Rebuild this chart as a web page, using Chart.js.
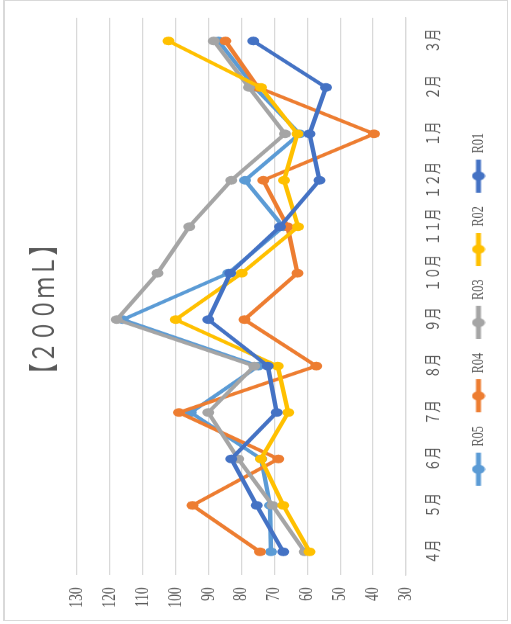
<!DOCTYPE html>
<html>
<head>
<meta charset="utf-8">
<script src="https://cdn.jsdelivr.net/npm/chart.js@4"></script>
<style>
  html, body { margin: 0; padding: 0; background: #fff; overflow: hidden; }
  #frame {
    position: absolute; left: 3px; top: 0; width: 505px; height: 621px;
    border: 1px solid #d9d9d9; border-left-width: 2px; box-sizing: border-box;
  }
  /* the chart is laid out flat, then squeezed and turned on its side */
  #wrap {
    position: absolute; left: 0; top: 0; width: 867px; height: 511px;
    transform-origin: 0 0;
    transform: translate(0, 624px) rotate(-90deg) scale(0.72, 1);
  }
</style>
</head>
<body>
<div id="frame"></div>
<div id="wrap"><canvas id="chart" width="867" height="511"></canvas></div>
<script>
const months = ['４月', '５月', '６月', '７月', '８月', '９月', '１０月', '１１月', '１２月', '１月', '２月', '３月'];
const r01 = [67.3, 75.4, 83.1, 69.3, 72.0, 90.1, 83.4, 68.3, 56.3, 59.3, 54.3, 76.4];
const r02 = [59.3, 67.3, 74.1, 65.8, 69.0, 100.0, 79.9, 62.8, 67.1, 63.0, 74.1, 102.2];
const r03 = [60.8, 70.6, 81.0, 90.1, 76.1, 117.9, 105.5, 95.9, 83.1, 66.8, 77.7, 88.4];
const r04 = [74.4, 94.9, 68.8, 99.0, 57.3, 79.1, 63.0, 66.0, 73.4, 39.7, 75.0, 84.9];
const r05 = [71.0, 71.3, 74.0, 95.4, 74.9, 116.1, 84.0, 67.3, 78.9, 62.3, 76.0, 87.0];
const seriesNames = ['R01', 'R02', 'R03', 'R04', 'R05'];
const seriesColors = ['#4472c4', '#ffc000', '#a5a5a5', '#ed7d31', '#5b9bd5'];
const axisMin = 30;
const axisMax = 130;
const axisStep = 10;

const textColor = '#595959';
const gridColor = '#d9d9d9';

// legend symbol: short line with a dot in the middle
function legendSymbol(color) {
    const c = document.createElement('canvas');
    c.width = 46;
    c.height = 14;
    const g = c.getContext('2d');
    g.strokeStyle = color;
    g.lineWidth = 5;
    g.beginPath();
    g.moveTo(0, 7);
    g.lineTo(46, 7);
    g.stroke();
    g.fillStyle = color;
    g.beginPath();
    g.arc(23, 7, 6.5, 0, Math.PI * 2);
    g.fill();
    return c;
}

// title and legend sit a bit right of the canvas centre in the original
const nudgeBoxes = {
    id: 'nudgeBoxes',
    afterLayout(chart) {
        [chart.titleBlock, chart.legend].forEach(b => {
            if (b) { b.left += 16; b.right += 16; }
        });
    }
};

const values = [r01, r02, r03, r04, r05];
const datasets = values.map((v, i) => ({
    label: seriesNames[i],
    data: v,
    borderColor: seriesColors[i],
    backgroundColor: seriesColors[i],
    borderWidth: 4.5,
    pointRadius: 6,
    pointHoverRadius: 6,
    pointBorderWidth: 0,
    tension: 0
}));

new Chart(document.getElementById('chart'), {
    type: 'line',
    data: { labels: months, datasets: datasets },
    plugins: [nudgeBoxes],
    options: {
        responsive: false,
        animation: false,
        events: [],
        layout: { padding: { left: 0, right: 25, top: 0, bottom: 14 } },
        plugins: {
            tooltip: { enabled: false },
            title: {
                display: true,
                text: '【２００ｍＬ】',
                color: textColor,
                font: { family: "'Noto Sans CJK JP'", size: 30, weight: 'normal', lineHeight: 1.2 },
                padding: { top: 25, bottom: 16 }
            },
            legend: {
                position: 'bottom',
                reverse: true,
                labels: {
                    usePointStyle: true,
                    pointStyleWidth: 46,
                    boxHeight: 14,
                    padding: 19,
                    color: textColor,
                    font: { family: "'Liberation Serif'", size: 17 },
                    generateLabels(chart) {
                        const items = Chart.defaults.plugins.legend.labels.generateLabels(chart);
                        items.forEach(it => {
                            it.pointStyle = legendSymbol(chart.data.datasets[it.datasetIndex].borderColor);
                        });
                        return items;
                    }
                }
            }
        },
        scales: {
            x: {
                offset: true,
                grid: { display: false, drawTicks: false },
                border: { color: gridColor, width: 1.25 },
                ticks: {
                    color: textColor,
                    font: { family: "'Noto Sans CJK JP'", size: 17 },
                    padding: 16,
                    maxRotation: 0,
                    autoSkip: false
                },
                afterFit(scale) { scale.height = 45; }
            },
            y: {
                min: axisMin,
                max: axisMax,
                grid: { color: gridColor, lineWidth: 1.25, drawTicks: false },
                border: { display: false },
                ticks: {
                    stepSize: axisStep,
                    color: textColor,
                    font: { family: "'Liberation Serif'", size: 19 },
                    padding: 17
                },
                afterFit(scale) { scale.width = 68; }
            }
        }
    }
});
</script>
</body>
</html>
